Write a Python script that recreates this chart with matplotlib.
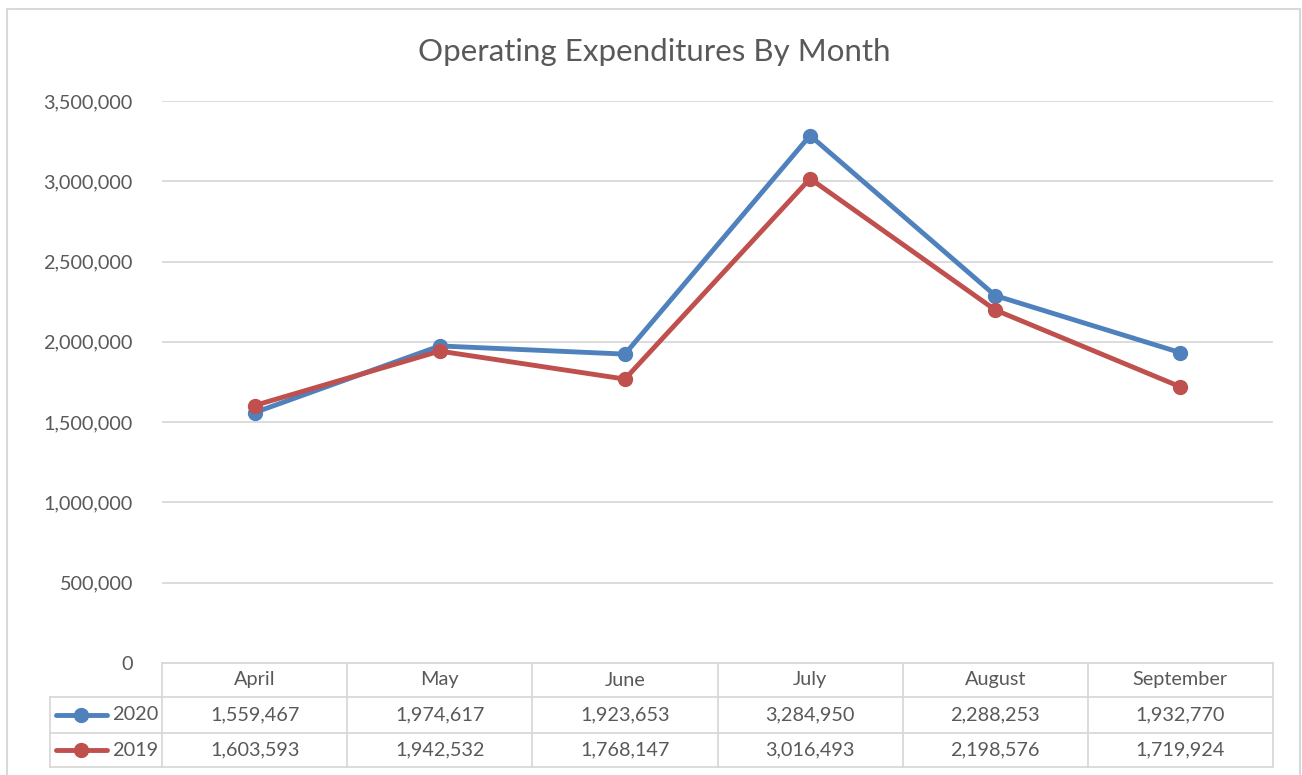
"""Operating expenditures by month: line chart with an Excel-style data table."""

import matplotlib

matplotlib.use("Agg")
from matplotlib import pyplot as plt
from matplotlib.patches import Rectangle
from matplotlib.ticker import FuncFormatter, MultipleLocator
import matplotlib.transforms as mtransforms

plt.rcParams["font.family"] = ["Lato", "DejaVu Sans"]

# ========== Data ==========

months = ["April", "May", "June", "July", "August", "September"]
series_names = ["2020", "2019"]
values_2020 = [1559467, 1974617, 1923653, 3284950, 2288253, 1932770]
values_2019 = [1603593, 1942532, 1768147, 3016493, 2198576, 1719924]

BLUE = "#4F81BD"
RED = "#C0504D"
GRID = "#D9D9D9"
TEXT = "#595959"
FS = 14.3

W, H = 1302, 775
fig = plt.figure(figsize=(W / 100, H / 100), dpi=100)


def fx(px):
    return px / W


def fy(py):
    return 1 - py / H


# Plot area (pixel positions)
left, right, top, bottom = 162, 1273, 101, 663
ax = fig.add_axes([fx(left), fy(bottom), fx(right - left), (bottom - top) / H])

x = list(range(len(months)))
series = [(values_2020, BLUE), (values_2019, RED)]
for vals, color in series:
    ax.plot(x, vals, color=color, linewidth=3.5, marker="o", markersize=10,
            solid_capstyle="round", zorder=3)

ax.set_xlim(-0.5, len(months) - 0.5)
ax.set_ylim(0, 3500000)
ax.yaxis.set_major_locator(MultipleLocator(500000))
ax.yaxis.set_major_formatter(FuncFormatter(lambda v, _: f"{v:,.0f}"))
ax.grid(axis="y", color=GRID, linewidth=1.3)
ax.set_axisbelow(True)
for s in ax.spines.values():
    s.set_visible(False)
ax.tick_params(axis="y", length=0, pad=21, labelsize=FS, labelcolor=TEXT)
ax.tick_params(axis="x", length=0, labelbottom=False)

# Title
fig.text(fx(654), fy(52), "Operating Expenditures By Month", ha="center", va="center",
         fontsize=22.5, color=TEXT)

# Outer chart border
fig.patches.append(Rectangle((fx(7), fy(790)), fx(1300 - 7), (790 - 9) / H,
                             transform=fig.transFigure, fill=False,
                             edgecolor=GRID, linewidth=1.5, zorder=0))

# ========== Data table below the axis ==========

trans = mtransforms.blended_transform_factory(ax.transData, fig.transFigure)
row_edges = [663, 697, 733, 767]
col_edges = [i - 0.5 for i in range(len(months) + 1)]
line_kw = dict(color=GRID, linewidth=1.3, clip_on=False)

# horizontal lines across the month columns
for r in row_edges:
    ax.plot([col_edges[0], col_edges[-1]], [fy(r), fy(r)], transform=trans, **line_kw)
# vertical lines
for c in col_edges:
    ax.plot([c, c], [fy(row_edges[0]), fy(row_edges[-1])], transform=trans, **line_kw)

# left legend column (only for the series rows)
for r in row_edges[1:]:
    fig.add_artist(plt.Line2D([fx(50), fx(left)], [fy(r), fy(r)], color=GRID, linewidth=1.3))
fig.add_artist(plt.Line2D([fx(50), fx(50)], [fy(row_edges[1]), fy(row_edges[-1])],
                          color=GRID, linewidth=1.3))

# month header
for i, m in enumerate(months):
    ax.text(i, fy((row_edges[0] + row_edges[1]) / 2), m, transform=trans,
            ha="center", va="center", fontsize=FS, color=TEXT)

# series rows
for k, (name, (vals, color)) in enumerate(zip(series_names, series)):
    yc = fy((row_edges[k + 1] + row_edges[k + 2]) / 2)
    fig.add_artist(plt.Line2D([fx(56), fx(107)], [yc, yc], color=color, linewidth=3.5,
                              solid_capstyle="round"))
    fig.add_artist(plt.Line2D([fx(81)], [yc], color=color, marker="o", markersize=10,
                              linestyle="none"))
    fig.text(fx(158), yc, name, ha="right", va="center", fontsize=FS, color=TEXT)
    for i, v in enumerate(vals):
        ax.text(i, yc, f"{v:,}", transform=trans, ha="center", va="center",
                fontsize=FS, color=TEXT)

fig.savefig("out.png", dpi=100, facecolor="white")
